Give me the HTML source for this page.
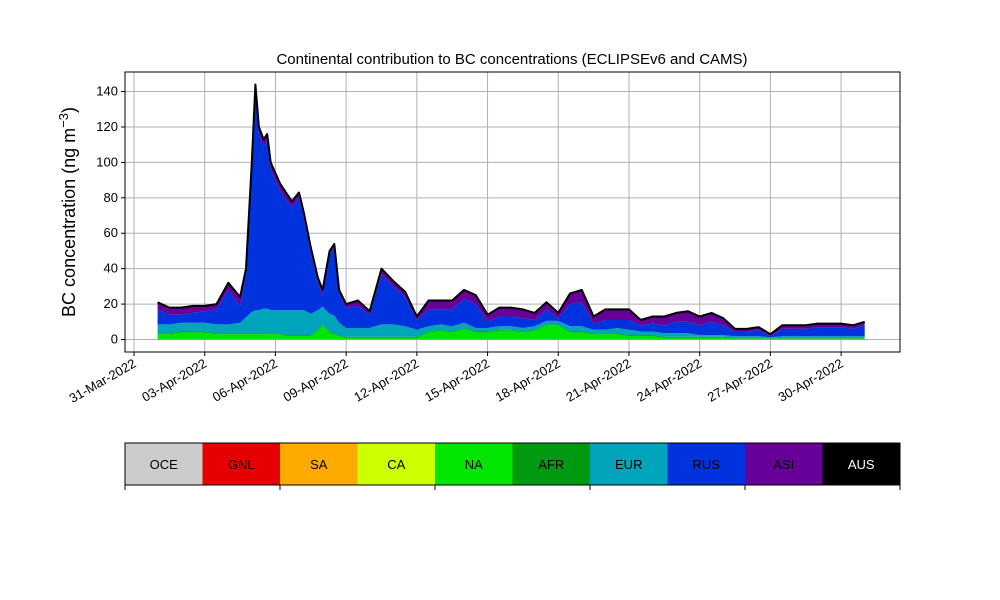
<!DOCTYPE html>
<html><head><meta charset="utf-8"><style>
body{margin:0;background:#fff;}
svg{display:block;font-family:"Liberation Sans","DejaVu Sans",sans-serif;}
</style></head><body>
<svg id="chart" width="1000" height="600" viewBox="0 0 1000 600">
<rect width="1000" height="600" fill="#fff"/>
<g id="grid"></g>
<g id="areas"></g>
<g id="axes"></g>
<g id="legend"></g>
</svg>
<script>
const days=[1,1.5,2,2.5,3,3.5,4,4.5,4.75,5,5.15,5.3,5.5,5.65,5.8,6.2,6.5,6.7,7,7.2,7.5,7.8,8,8.3,8.5,8.7,9,9.5,10,10.5,11,11.5,12,12.5,13,13.5,14,14.5,15,15.5,16,16.5,17,17.5,18,18.5,19,19.5,20,20.5,21,21.5,22,22.5,23,23.5,24,24.5,25,25.5,26,26.5,27,27.5,28,28.5,29,29.5,30,30.5,31];
const naVals=[3,3,4,4,4,3,3,3,3,3,3,3,3,3,3,3,2,2,2,2,2,5,8,4,3,2,1,1,1,1,1,1,1,4,5,4,6,4,4,5,5,4,5,8,8,4,4,3,3,3,2,2,2,1,1,1,1,1,1,0.5,0.5,0.5,0.5,0.5,0.5,0.5,0.5,0.5,0.5,0.5,0.5];
const afrVals=[0.5,0.5,0.5,0.5,0.5,0.5,0.5,0.5,0.5,0.5,0.5,0.5,0.5,0.5,0.5,0.5,0.5,0.5,0.5,0.5,0.5,0.5,0.5,0.5,0.5,0.5,0.5,0.5,0.5,0.5,0.5,0.5,0.5,0.5,0.5,0.5,0.5,0.5,0.5,0.5,0.5,0.5,0.5,0.5,0.5,0.5,0.5,0.5,0.5,0.5,0.5,0.5,0.5,0.5,0.5,0.5,0.5,0.5,0.5,0.3,0.3,0.3,0.3,0.3,0.3,0.3,0.3,0.3,0.3,0.3,0.3];
const eurVals=[5,5,5,5,5,5,5,6,9,12,13,13,14,14,13,13,14,14,14,14,12,11,10,10,10,7,5,5,5,7,7,6,4,3,3,3,3,2,2,2,2,2,2,2,2,3,3,2,2,3,3,2,2,2,2,2,1,1,1,1,1,1,0.5,1,1,1,1,1,1,1,1];
const rusVals=[8.5,5.5,4.5,5.5,6.5,8.5,19.5,9.5,23.5,82.5,125.5,99.5,91.5,94.5,79.5,67.5,61.5,58.5,63.5,52.5,34.5,15.5,6.5,33.5,38.5,16.5,11.5,12.5,7.5,28.5,21.5,16.5,5.5,9.5,8.5,9.5,13.5,13.5,3.5,5.5,5.5,5.5,3.5,6.5,1.5,12.5,13.5,3.5,5.5,4.5,5.5,3.5,4.5,4.5,6.5,6.5,5.5,7.5,5.5,2.7,2.7,3.7,0.7,4.2,4.2,4.2,5.2,5.2,5.2,4.2,6.2];
const asiVals=[4,4,4,4,3,3,4,5,4,2,2,4,4,4,4,4,4,3,3,3,3,3,3,2,2,2,2,3,2,3,3,3,2,5,5,5,5,5,4,5,5,5,4,4,3,6,7,4,6,6,6,3,4,5,5,6,5,5,4,1.5,1.5,1.5,1,2,2,2,2,2,2,2,2];
const yTicks=[0,20,40,60,80,100,120,140];
const xTickDays=[0,3,6,9,12,15,18,21,24,27,30];
const xTickLabels=["31-Mar-2022","03-Apr-2022","06-Apr-2022","09-Apr-2022","12-Apr-2022","15-Apr-2022","18-Apr-2022","21-Apr-2022","24-Apr-2022","27-Apr-2022","30-Apr-2022"];
const legendNames=["OCE","GNL","SA","CA","NA","AFR","EUR","RUS","ASI","AUS"];
const legendColors=["#cccccc","#e60000","#ffaa00","#ccff00","#00e600","#009910","#00a5bb","#0033dd","#660099","#000000"];

const NS="http://www.w3.org/2000/svg";
const L=125,R=900,T=72,B=352;
const xs=d=>134+23.57*d;
const ys=v=>339.5-v*1.771;
function mk(tag,attrs,parent){const e=document.createElementNS(NS,tag);for(const k in attrs)e.setAttribute(k,attrs[k]);parent.appendChild(e);return e;}
const grid=document.getElementById('grid'),areas=document.getElementById('areas'),axes=document.getElementById('axes'),leg=document.getElementById('legend');

yTicks.forEach(v=>{const l=mk('line',{x1:L,x2:R,y1:ys(v),y2:ys(v),stroke:'#b0b0b0','stroke-width':1},grid);

});
xTickDays.forEach(d=>{const l=mk('line',{x1:xs(d),x2:xs(d),y1:T,y2:B,stroke:'#b0b0b0','stroke-width':1},grid);

});

const layers=[["na",naVals,"#00e600"],["afr",afrVals,"#009910"],["eur",eurVals,"#00a5bb"],["rus",rusVals,"#0033dd"],["asi",asiVals,"#660099"]];
let base=days.map(()=>0);
layers.forEach(([nm,vals,col])=>{
  const top=base.map((b,i)=>b+vals[i]);
  let d='M'+days.map((t,i)=>xs(t).toFixed(1)+','+ys(top[i]).toFixed(1)).join('L');
  for(let i=days.length-1;i>=0;i--)d+='L'+xs(days[i]).toFixed(1)+','+ys(base[i]).toFixed(1);
  const p=mk('path',{d:d+'Z',fill:col,stroke:'none'},areas);
  
  
  base=top;
});
const tl=mk('path',{d:'M'+days.map((t,i)=>xs(t).toFixed(1)+','+ys(base[i]).toFixed(1)).join('L'),fill:'none',stroke:'#000','stroke-width':2,'stroke-linejoin':'round'},areas);



const fr=mk('rect',{x:L,y:T,width:R-L,height:B-T,fill:'none',stroke:'#000','stroke-width':1},axes);


yTicks.forEach(v=>{mk('line',{x1:L-4,x2:L,y1:ys(v),y2:ys(v),stroke:'#000'},axes);
const t=mk('text',{x:L-7,y:ys(v)+4,'text-anchor':'end','font-size':13},axes);t.textContent=v;

});
xTickDays.forEach((d,i)=>{mk('line',{x1:xs(d),x2:xs(d),y1:B,y2:B+4,stroke:'#000'},axes);
const t=mk('text',{x:xs(d)+3,y:B+14,'text-anchor':'end','font-size':13,transform:`rotate(-30 ${xs(d)+3} ${B+14})`},axes);t.textContent=xTickLabels[i];

});
const ttl=mk('text',{x:512,y:64,'text-anchor':'middle','font-size':15},axes);ttl.textContent='Continental contribution to BC concentrations (ECLIPSEv6 and CAMS)';


const yl=mk('text',{x:0,y:0,'text-anchor':'middle','font-size':18,transform:'translate(75 212) rotate(-90)'},axes);
yl.innerHTML='BC concentration (ng m<tspan font-size="13" dy="-7">−3</tspan><tspan dy="7">)</tspan>';



const cw=(R-L)/legendNames.length;
legendNames.forEach((n,i)=>{
  const r=mk('rect',{x:L+i*cw,y:443,width:cw,height:42,fill:legendColors[i]},leg);
  
  
  const t=mk('text',{x:L+i*cw+cw/2,y:469,'text-anchor':'middle','font-size':13,fill:n==='AUS'?'#fff':'#000'},leg);t.textContent=n;
  
  
});
mk('rect',{x:L,y:443,width:R-L,height:42,fill:'none',stroke:'#000','stroke-width':1},leg);
[0,2,4,6,8,10].forEach(k=>mk('line',{x1:L+k*cw,x2:L+k*cw,y1:485,y2:490,stroke:'#000'},leg));
</script>
</body></html>
